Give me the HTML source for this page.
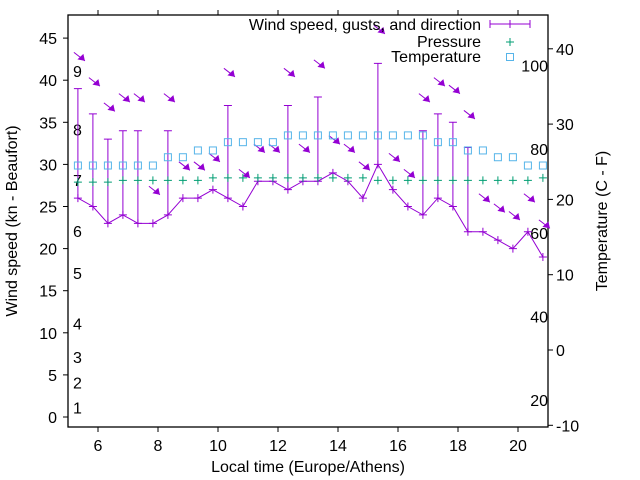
<!DOCTYPE html>
<html><head><meta charset="utf-8"><style>
body{margin:0;background:#fff}
svg{display:block;font-family:"Liberation Sans",sans-serif;font-size:16px}
</style></head><body>
<svg id="c" width="640" height="480">
<g id="axes"></g>
<g id="marks"></g>
</svg>
<script>
const startHour = 5.33;
const stepHour = 0.5;
const windSpeed = [26,25,23,24,23,23,24,26,26,27,26,25,28,28,27,28,28,29,28,26,30,27,25,24,26,25,22,22,21,20,22,19];
const gusts = [39,36,33,34,34,null,34,null,null,null,37,null,null,null,37,null,38,null,null,null,42,null,null,34,36,35,32,null,null,null,null,null];
const arrowLevel = [42.3,39.3,36.3,37.4,37.4,26.4,37.4,29.3,29.3,30.3,40.4,28.4,31.4,31.4,40.4,31.4,41.4,32.4,31.4,29.3,45.5,30.3,28.4,37.4,39.3,38.4,35.4,25.5,24.3,23.4,25.5,22.4];
const pressure = [27.9,27.9,27.9,28.1,28.1,28.1,28.1,28.1,28.1,28.4,28.4,28.4,28.4,28.4,28.4,28.4,28.4,28.4,28.4,28.4,28.1,28.1,28.1,28.1,28.1,28.1,28.1,28.1,28.1,28.1,28.1,28.4];
const tempC = [24.5,24.5,24.5,24.5,24.5,24.5,25.6,25.6,26.5,26.5,27.6,27.6,27.6,27.6,28.5,28.5,28.5,28.5,28.5,28.5,28.5,28.5,28.5,28.5,27.6,27.6,26.5,26.5,25.6,25.6,24.5,24.5];
const xTicks = [6,8,10,12,14,16,18,20];
const yTicks = [0,5,10,15,20,25,30,35,40,45];
const y2Ticks = [-10,0,10,20,30,40];
const fTicks = [20,40,60,80,100];
const beaufortLabels = ["1","2","3","4","5","6","7","8","9"];
const beaufortKn = [1,4,7,11,17,22,28,34,41];

const L=68,R=548,T=15,B=427;
const X=h=>98+30*(h-6);
const Y=v=>417-8.42*v;
const Y2=c=>350-7.53*c;
const NS="http://www.w3.org/2000/svg";
function mk(tag,attrs,parent,text){const e=document.createElementNS(NS,tag);for(const k in attrs)e.setAttribute(k,attrs[k]);if(text!==undefined)e.textContent=text;parent.appendChild(e);return e;}
const ax=document.getElementById('axes'), mg=document.getElementById('marks');

let e=mk('rect',{x:L,y:T,width:R-L,height:B-T,fill:'none',stroke:'#000','stroke-width':1.3},ax);


xTicks.forEach(h=>{
  const x=X(h);
  mk('line',{x1:x,y1:B,x2:x,y2:B+5,stroke:'#000'},ax);
  mk('line',{x1:x,y1:T,x2:x,y2:T-5,stroke:'#000'},ax);
  e=mk('text',{x:x,y:451,'text-anchor':'middle'},ax,String(h));
  
  
});
yTicks.forEach(v=>{
  const y=Y(v);
  mk('line',{x1:L,y1:y,x2:L-5,y2:y,stroke:'#000'},ax);
  e=mk('text',{x:57,y:y+6,'text-anchor':'end'},ax,String(v));
  
  
});
y2Ticks.forEach(c=>{
  const y=Y2(c);
  mk('line',{x1:R,y1:y,x2:R+5,y2:y,stroke:'#000'},ax);
  e=mk('text',{x:556,y:y+6},ax,String(c));
  
  
});
fTicks.forEach(f=>{
  e=mk('text',{x:548,y:Y2((f-32)*5/9)+6,'text-anchor':'end'},ax,String(f));
  
  
});
beaufortLabels.forEach((b,i)=>{
  e=mk('text',{x:73,y:Y(beaufortKn[i])+5},ax,b);
  
  
});
e=mk('text',{x:308,y:472,'text-anchor':'middle'},ax,'Local time (Europe/Athens)');


e=mk('text',{x:0,y:0,'text-anchor':'middle',transform:'translate(17,221) rotate(-90)'},ax,'Wind speed (kn - Beaufort)');


e=mk('text',{x:0,y:0,'text-anchor':'middle',transform:'translate(607,221) rotate(-90)'},ax,'Temperature (C - F)');



const P='#9400d3',G='#009e73',Bl='#56b4e9';
const xs=windSpeed.map((v,i)=>X(startHour+stepHour*i));
arrowLevel.forEach((a,i)=>{
  const tx=xs[i]+7, ty=Y(a);
  const g=mk('g',{},mg);
  
  
  mk('line',{x1:tx-11,y1:ty-8.5,x2:tx,y2:ty,stroke:P,'stroke-width':1},g);
  mk('polygon',{points:`${tx},${ty} ${tx-7.5},${ty-1.5} ${tx-1.5},${ty-7}`,fill:P},g);
});
gusts.forEach((g,i)=>{
  if(g===null)return;
  const x=xs[i];
  e=mk('path',{d:`M${x},${Y(windSpeed[i])}V${Y(g)}M${x-4},${Y(g)}H${x+4}`,stroke:P,fill:'none'},mg);
  
  
});
e=mk('polyline',{points:windSpeed.map((v,i)=>xs[i]+','+Y(v)).join(' '),fill:'none',stroke:P},mg);


windSpeed.forEach((v,i)=>{
  e=mk('path',{d:`M${xs[i]-4},${Y(v)}H${xs[i]+4}M${xs[i]},${Y(v)-4}V${Y(v)+4}`,stroke:P},mg);
  
  
});
pressure.forEach((p,i)=>{
  e=mk('path',{d:`M${xs[i]-4},${Y(p)}H${xs[i]+4}M${xs[i]},${Y(p)-4}V${Y(p)+4}`,stroke:G},mg);
  
  
});
tempC.forEach((t,i)=>{
  e=mk('rect',{x:xs[i]-3.5,y:Y2(t)-3.5,width:7,height:7,fill:'none',stroke:Bl},mg);
  
  
});
const lg=mk('g',{},mg);


e=mk('text',{x:481,y:30,'text-anchor':'end'},lg,'Wind speed, gusts, and direction');


mk('path',{d:'M490,24H530M490,20V28M530,20V28M510,20V28',stroke:P},lg);
e=mk('text',{x:481,y:47,'text-anchor':'end'},lg,'Pressure');


mk('path',{d:'M506,42H514M510,38V46',stroke:G},lg);
e=mk('text',{x:481,y:62,'text-anchor':'end'},lg,'Temperature');


mk('rect',{x:506.5,y:53.5,width:7,height:7,fill:'none',stroke:Bl},lg);
</script>
</body></html>
